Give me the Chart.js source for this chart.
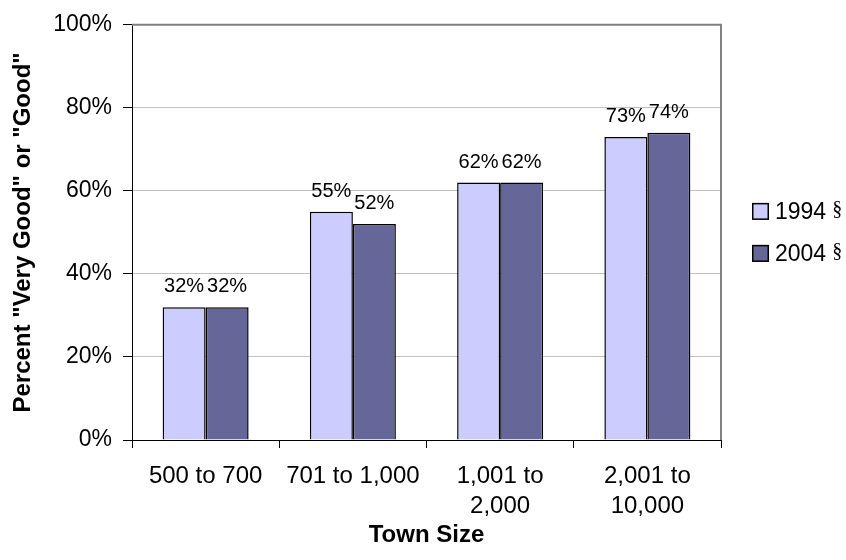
<!DOCTYPE html>
<html>
<head>
<meta charset="utf-8">
<script src="https://cdn.jsdelivr.net/npm/chart.js@4.4.1/dist/chart.umd.min.js"></script>
<style>
  html, body { margin: 0; padding: 0; background: #fff; }
  #wrap { width: 846px; height: 560px; }
</style>
</head>
<body>
<div id="wrap"><canvas id="c" width="846" height="560"></canvas></div>
<script>
const categories = [["500 to 700"], ["701 to 1,000"], ["1,001 to", "2,000"], ["2,001 to", "10,000"]];
const values1994 = [32, 55, 62, 73];
const values2004 = [32, 52, 62, 74];
const seriesNames = ["1994", "2004"];
const yTicks = [0, 20, 40, 60, 80, 100];

const FONT = "'Liberation Sans', Arial, Helvetica, sans-serif";

// Value labels above each bar
const barLabels = {
  id: 'barLabels',
  afterDatasetsDraw(chart) {
    const ctx = chart.ctx;
    ctx.save();
    ctx.font = '20px ' + FONT;
    ctx.fillStyle = '#000';
    ctx.textAlign = 'center';
    ctx.textBaseline = 'alphabetic';
    chart.data.datasets.forEach((ds, i) => {
      chart.getDatasetMeta(i).data.forEach((bar, j) => {
        ctx.fillText(ds.data[j] + '%', bar.x, bar.y - 15);
      });
    });
    ctx.restore();
  }
};

// Top and right edges of the plot frame
const plotFrame = {
  id: 'plotFrame',
  beforeDatasetsDraw(chart) {
    const a = chart.chartArea;
    const ctx = chart.ctx;
    ctx.save();
    ctx.strokeStyle = '#808080';
    ctx.lineWidth = 2;
    ctx.beginPath();
    ctx.moveTo(a.left, a.top);
    ctx.lineTo(a.right, a.top);
    ctx.lineTo(a.right, a.bottom);
    ctx.stroke();
    ctx.restore();
  }
};

// Legend on the right, centred on the plot height
const sideLegend = {
  id: 'sideLegend',
  afterDraw(chart) {
    const ctx = chart.ctx;
    const a = chart.chartArea;
    ctx.save();
    const x0 = 752, box = 17, gap = 42;
    const mid = (a.top + a.bottom) / 2;
    chart.data.datasets.forEach((ds, i) => {
      const y = mid + (i - 0.5) * gap;
      ctx.fillStyle = ds.backgroundColor;
      ctx.fillRect(x0, y - box / 2, box, box);
      ctx.strokeStyle = '#000';
      ctx.lineWidth = 1.5;
      ctx.strokeRect(x0 + 0.75, y - box / 2 + 0.75, box - 1.5, box - 1.5);
      ctx.fillStyle = '#000';
      ctx.font = '23px ' + FONT;
      ctx.textAlign = 'left';
      ctx.textBaseline = 'middle';
      ctx.fillText(ds.label, x0 + box + 6, y + 1);
      const w = ctx.measureText(ds.label).width;
      ctx.font = "20px 'Liberation Serif', 'Times New Roman', serif";
      ctx.fillText('§', x0 + box + 6 + w + 6, y - 2);
    });
    ctx.restore();
  }
};

new Chart(document.getElementById('c'), {
  type: 'bar',
  data: {
    labels: categories,
    datasets: [
      { label: seriesNames[0], data: values1994, backgroundColor: '#ccccff', borderColor: '#000', borderWidth: 1.5 },
      { label: seriesNames[1], data: values2004, backgroundColor: '#666699', borderColor: '#000', borderWidth: 1.5 }
    ]
  },
  options: {
    responsive: false,
    animation: false,
    layout: { padding: { left: 0, top: 23, right: 125, bottom: 0 } },
    plugins: { legend: { display: false }, tooltip: { enabled: false } },
    datasets: { bar: { categoryPercentage: 0.584, barPercentage: 1.0 } },
    scales: {
      x: {
        afterFit(s) { s.height = 120; },
        grid: { display: true, drawOnChartArea: false, drawTicks: true, tickLength: 8, tickColor: '#000', offset: true },
        border: { display: true, color: '#000', width: 1 },
        ticks: { color: '#000', font: { family: FONT, size: 24, lineHeight: 1.25 }, padding: 13, maxRotation: 0, autoSkip: false },
        title: { display: true, text: 'Town Size', color: '#000', font: { family: FONT, size: 24, weight: 'bold' }, padding: { top: 0, bottom: 10 } }
      },
      y: {
        min: 0, max: 100,
        afterFit(s) { s.width = 132; },
        afterBuildTicks(s) { s.ticks = yTicks.map(v => ({ value: v })); },
        grid: { color: '#c0c0c0', lineWidth: 1, tickLength: 9, tickColor: '#000' },
        border: { display: true, color: '#000', width: 1 },
        ticks: { color: '#000', font: { family: FONT, size: 23 }, padding: 11, callback: v => v + '%' },
        title: { display: true, text: 'Percent "Very Good" or "Good"', color: '#000', font: { family: FONT, size: 24, weight: 'bold' }, padding: { top: 9, bottom: 0 } }
      }
    }
  },
  plugins: [plotFrame, barLabels, sideLegend]
});
</script>
</body>
</html>
